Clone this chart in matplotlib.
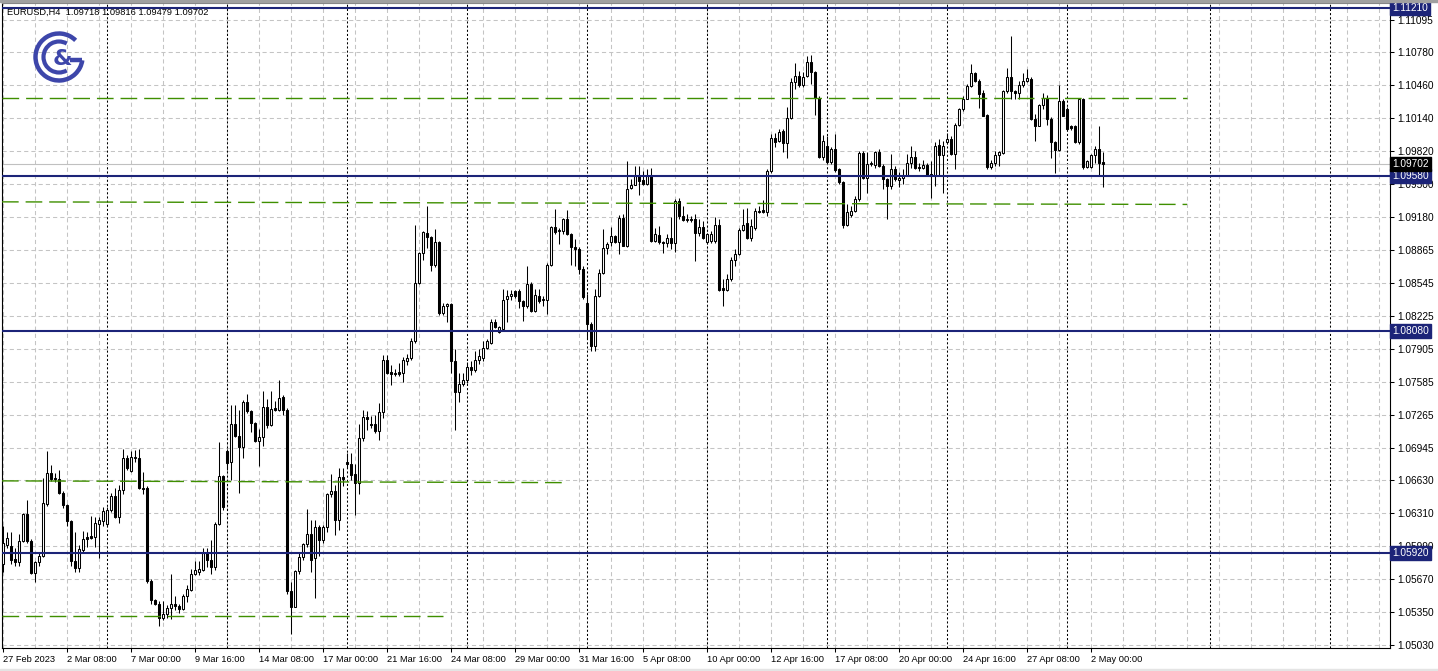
import numpy as np
import matplotlib
matplotlib.use("Agg")
import matplotlib.pyplot as plt
from matplotlib.patches import Arc, Rectangle
from matplotlib.transforms import blended_transform_factory

plt.rcParams['font.family'] = ['Liberation Sans', 'DejaVu Sans']
plt.rcParams['lines.scale_dashes'] = False

# EURUSD H4 bars, 27 Feb 16:00 .. 2 May 12:00 (one line = one day)
opens = [
    1.0582, 1.0600,
    1.0599, 1.0586, 1.0583, 1.0604, 1.0630, 1.0604,
    1.0573, 1.0583, 1.0589, 1.0640, 1.0670, 1.0665,
    1.0664, 1.0650, 1.0639, 1.0623, 1.0584, 1.0578,
    1.0595, 1.0608, 1.0609, 1.0608, 1.0620, 1.0623,
    1.0620, 1.0634, 1.0648, 1.0627, 1.0653, 1.0684,
    1.0672, 1.0684, 1.0684, 1.0655, 1.0655, 1.0565,
    1.0547, 1.0543, 1.0529, 1.0533, 1.0539, 1.0543,
    1.0541, 1.0538, 1.0550, 1.0556, 1.0572, 1.0574,
    1.0576, 1.0592, 1.0585, 1.0579, 1.0620, 1.0667,
    1.0691, 1.0681, 1.0717, 1.0706, 1.0695, 1.0739,
    1.0730, 1.0718, 1.0701, 1.0705, 1.0734, 1.0716,
    1.0733, 1.0731, 1.0744, 1.0731, 1.0555, 1.0540,
    1.0575, 1.0588, 1.0601, 1.0611, 1.0587, 1.0617,
    1.0605, 1.0617, 1.0649, 1.0652, 1.0624, 1.0666,
    1.0681, 1.0679, 1.0669, 1.0660, 1.0704, 1.0724,
    1.0717, 1.0717, 1.0711, 1.0729, 1.0780, 1.0768,
    1.0767, 1.0768, 1.0767, 1.0779, 1.0781, 1.0798,
    1.0854, 1.0883, 1.0903, 1.0899, 1.0872, 1.0894,
    1.0825, 1.0832, 1.0834, 1.0779, 1.0748, 1.0756,
    1.0760, 1.0773, 1.0770, 1.0780, 1.0781, 1.0791,
    1.0796, 1.0816, 1.0807, 1.0810, 1.0839, 1.0842,
    1.0846, 1.0846, 1.0837, 1.0832, 1.0853, 1.0827,
    1.0842, 1.0838, 1.0838, 1.0872, 1.0909, 1.0905,
    1.0905, 1.0916, 1.0902, 1.0889, 1.0887, 1.0868,
    1.0835, 1.0814, 1.0793, 1.0842, 1.0864, 1.0888,
    1.0894, 1.0900, 1.0894, 1.0917, 1.0890, 1.0946,
    1.0949, 1.0959, 1.0954, 1.0950, 1.0958, 1.0895,
    1.0901, 1.0894, 1.0893, 1.0898, 1.0893, 1.0934,
    1.0919, 1.0915, 1.0916, 1.0916, 1.0903, 1.0909,
    1.0894, 1.0895, 1.0895, 1.0911, 1.0849, 1.0847,
    1.0858, 1.0877, 1.0882, 1.0906, 1.0912, 1.0898,
    1.0908, 1.0923, 1.0925, 1.0923, 1.0963, 1.0995,
    1.0992, 1.1002, 1.0990, 1.1014, 1.1049, 1.1055,
    1.1046, 1.1055, 1.1069, 1.1059, 1.1034, 1.0977,
    1.0987, 1.0972, 1.0984, 1.0965, 1.0952, 1.0911,
    1.0920, 1.0924, 1.0936, 1.0980, 1.0956, 1.0970,
    1.0969, 1.0981, 1.0968, 1.0955, 1.0948, 1.0965,
    1.0954, 1.0956, 1.0959, 1.0971, 1.0977, 1.0967,
    1.0966, 1.0969, 1.0960, 1.0958, 1.0988, 1.0978,
    1.0991, 1.0994, 1.0979, 1.1008, 1.1023, 1.1033,
    1.1045, 1.1058, 1.1050, 1.1039, 1.1017, 1.0967,
    1.0971, 1.0978, 1.0980, 1.1041, 1.1054, 1.1041,
    1.1039, 1.1046, 1.1050, 1.1052, 1.1013, 1.1007,
    1.1027, 1.1034, 1.1013, 1.0991, 1.0983, 1.1031,
    1.1023, 1.1007, 1.1007, 1.0991, 1.1033, 1.0967,
    1.0967, 1.0978, 1.0984, 1.09718,
]
highs = [
    1.0618, 1.0613,
    1.0613, 1.0597, 1.0611, 1.0631, 1.0644, 1.0606,
    1.0584, 1.0593, 1.0665, 1.0691, 1.0678, 1.0670,
    1.0673, 1.0652, 1.0640, 1.0624, 1.0613, 1.0600,
    1.0614, 1.0613, 1.0628, 1.0627, 1.0627, 1.0637,
    1.0637, 1.0650, 1.0655, 1.0658, 1.0693, 1.0687,
    1.0691, 1.0692, 1.0693, 1.0671, 1.0657, 1.0567,
    1.0548, 1.0546, 1.0546, 1.0542, 1.0572, 1.0550,
    1.0543, 1.0552, 1.0561, 1.0577, 1.0584, 1.0584,
    1.0597, 1.0597, 1.0605, 1.0622, 1.0700, 1.0668,
    1.0693, 1.0736, 1.0736, 1.0731, 1.0741, 1.0747,
    1.0731, 1.0719, 1.0713, 1.0749, 1.0742, 1.0749,
    1.0740, 1.0760, 1.0746, 1.0733, 1.0564, 1.0576,
    1.0593, 1.0602, 1.0635, 1.0624, 1.0624, 1.0619,
    1.0619, 1.0650, 1.0669, 1.0658, 1.0675, 1.0675,
    1.0689, 1.0689, 1.0679, 1.0717, 1.0731, 1.0730,
    1.0725, 1.0726, 1.0738, 1.0784, 1.0784, 1.0775,
    1.0771, 1.0777, 1.0782, 1.0785, 1.0801, 1.0911,
    1.0884, 1.0905, 1.0929, 1.0900, 1.0907, 1.0895,
    1.0835, 1.0835, 1.0835, 1.0790, 1.0767, 1.0767,
    1.0778, 1.0779, 1.0788, 1.0790, 1.0798, 1.0800,
    1.0819, 1.0819, 1.0813, 1.0848, 1.0847, 1.0847,
    1.0847, 1.0848, 1.0838, 1.0871, 1.0855, 1.0848,
    1.0848, 1.0842, 1.0874, 1.0910, 1.0926, 1.0908,
    1.0917, 1.0925, 1.0903, 1.0897, 1.0889, 1.0871,
    1.0844, 1.0816, 1.0848, 1.0868, 1.0907, 1.0894,
    1.0909, 1.0901, 1.0920, 1.0921, 1.0973, 1.0955,
    1.0968, 1.0968, 1.0963, 1.0965, 1.0966, 1.0908,
    1.0910, 1.0895, 1.0902, 1.0918, 1.0936, 1.0937,
    1.0929, 1.0921, 1.0919, 1.0921, 1.0916, 1.0914,
    1.0903, 1.0905, 1.0918, 1.0916, 1.0858, 1.0863,
    1.0879, 1.0887, 1.0908, 1.0926, 1.0927, 1.0916,
    1.0927, 1.0929, 1.0935, 1.0965, 1.0999, 1.1000,
    1.1004, 1.1004, 1.1025, 1.1053, 1.1068, 1.1060,
    1.1059, 1.1075, 1.1076, 1.1060, 1.1036, 1.0998,
    1.0997, 1.0986, 1.0999, 1.0966, 1.0953, 1.0931,
    1.0929, 1.0939, 1.0982, 1.0982, 1.0981, 1.0973,
    1.0982, 1.0984, 1.0970, 1.0956, 1.0979, 1.0968,
    1.0962, 1.0965, 1.0979, 1.0987, 1.0982, 1.0971,
    1.0974, 1.0971, 1.0973, 1.0991, 1.0994, 1.0992,
    1.1000, 1.0997, 1.1010, 1.1024, 1.1036, 1.1047,
    1.1067, 1.1059, 1.1052, 1.1042, 1.1018, 1.0974,
    1.0982, 1.0982, 1.1042, 1.1063, 1.1094, 1.1042,
    1.1050, 1.1058, 1.1062, 1.1054, 1.1018, 1.1028,
    1.1039, 1.1037, 1.1015, 1.0992, 1.1046, 1.1033,
    1.1025, 1.1008, 1.1008, 1.1034, 1.1034, 1.0974,
    1.0979, 1.0987, 1.1007, 1.09816,
]
lows = [
    1.0574, 1.0597,
    1.0582, 1.0580, 1.0580, 1.0603, 1.0602, 1.0572,
    1.0564, 1.0580, 1.0588, 1.0638, 1.0662, 1.0661,
    1.0649, 1.0636, 1.0618, 1.0580, 1.0574, 1.0574,
    1.0593, 1.0598, 1.0606, 1.0598, 1.0587, 1.0618,
    1.0618, 1.0632, 1.0626, 1.0621, 1.0649, 1.0673,
    1.0671, 1.0681, 1.0654, 1.0649, 1.0563, 1.0543,
    1.0542, 1.0521, 1.0527, 1.0529, 1.0528, 1.0537,
    1.0534, 1.0537, 1.0545, 1.0555, 1.0571, 1.0571,
    1.0575, 1.0579, 1.0572, 1.0576, 1.0619, 1.0634,
    1.0673, 1.0663, 1.0705, 1.0650, 1.0684, 1.0728,
    1.0710, 1.0700, 1.0677, 1.0696, 1.0714, 1.0715,
    1.0730, 1.0730, 1.0726, 1.0552, 1.0514, 1.0540,
    1.0572, 1.0585, 1.0598, 1.0574, 1.0549, 1.0589,
    1.0602, 1.0613, 1.0647, 1.0610, 1.0615, 1.0657,
    1.0675, 1.0663, 1.0629, 1.0649, 1.0701, 1.0712,
    1.0714, 1.0709, 1.0702, 1.0723, 1.0766, 1.0755,
    1.0764, 1.0764, 1.0758, 1.0775, 1.0780, 1.0796,
    1.0853, 1.0877, 1.0888, 1.0866, 1.0870, 1.0823,
    1.0823, 1.0816, 1.0767, 1.0712, 1.0739, 1.0754,
    1.0757, 1.0765, 1.0768, 1.0776, 1.0779, 1.0790,
    1.0795, 1.0811, 1.0806, 1.0809, 1.0816, 1.0838,
    1.0840, 1.0830, 1.0817, 1.0830, 1.0826, 1.0826,
    1.0835, 1.0832, 1.0824, 1.0871, 1.0902, 1.0892,
    1.0902, 1.0901, 1.0872, 1.0871, 1.0863, 1.0839,
    1.0800, 1.0788, 1.0788, 1.0841, 1.0863, 1.0882,
    1.0890, 1.0893, 1.0882, 1.0890, 1.0889, 1.0945,
    1.0949, 1.0940, 1.0949, 1.0949, 1.0894, 1.0894,
    1.0892, 1.0883, 1.0889, 1.0887, 1.0884, 1.0916,
    1.0914, 1.0913, 1.0913, 1.0876, 1.0900, 1.0897,
    1.0892, 1.0893, 1.0893, 1.0846, 1.0832, 1.0846,
    1.0856, 1.0871, 1.0881, 1.0905, 1.0897, 1.0895,
    1.0906, 1.0922, 1.0922, 1.0919, 1.0961, 1.0986,
    1.0991, 1.0981, 1.0976, 1.1013, 1.1043, 1.1044,
    1.1044, 1.1054, 1.1047, 1.1017, 1.0976, 1.0974,
    1.0970, 1.0970, 1.0962, 1.0950, 1.0908, 1.0910,
    1.0918, 1.0923, 1.0934, 1.0955, 1.0942, 1.0968,
    1.0966, 1.0967, 1.0945, 1.0916, 1.0945, 1.0953,
    1.0947, 1.0950, 1.0958, 1.0966, 1.0965, 1.0963,
    1.0965, 1.0958, 1.0937, 1.0948, 1.0958, 1.0942,
    1.0989, 1.0978, 1.0965, 1.1007, 1.1021, 1.1033,
    1.1044, 1.1049, 1.1024, 1.1016, 1.0965, 1.0965,
    1.0968, 1.0968, 1.0979, 1.1039, 1.1033, 1.1033,
    1.1033, 1.1044, 1.1049, 1.1012, 1.0992, 1.1007,
    1.1023, 1.1008, 1.0976, 1.0961, 1.0982, 1.1016,
    1.1003, 1.1003, 1.0990, 1.0989, 1.0965, 1.0966,
    1.0966, 1.0971, 1.0958, 1.09479,
]
closes = [
    1.0602, 1.0607,
    1.0585, 1.0583, 1.0604, 1.0630, 1.0604, 1.0573,
    1.0583, 1.0589, 1.0641, 1.0670, 1.0664, 1.0664,
    1.0650, 1.0639, 1.0623, 1.0584, 1.0578, 1.0596,
    1.0606, 1.0606, 1.0607, 1.0621, 1.0624, 1.0633,
    1.0634, 1.0648, 1.0627, 1.0653, 1.0684, 1.0675,
    1.0685, 1.0685, 1.0655, 1.0654, 1.0565, 1.0547,
    1.0543, 1.0529, 1.0533, 1.0539, 1.0543, 1.0541,
    1.0538, 1.0550, 1.0557, 1.0572, 1.0576, 1.0577,
    1.0592, 1.0585, 1.0579, 1.0620, 1.0667, 1.0637,
    1.0680, 1.0717, 1.0706, 1.0695, 1.0739, 1.0730,
    1.0718, 1.0701, 1.0705, 1.0734, 1.0716, 1.0732,
    1.0731, 1.0743, 1.0731, 1.0555, 1.0540, 1.0575,
    1.0588, 1.0601, 1.0611, 1.0585, 1.0617, 1.0605,
    1.0617, 1.0649, 1.0652, 1.0624, 1.0666, 1.0664,
    1.0679, 1.0668, 1.0660, 1.0704, 1.0724, 1.0722,
    1.0716, 1.0711, 1.0729, 1.0780, 1.0767, 1.0766,
    1.0766, 1.0766, 1.0780, 1.0781, 1.0798, 1.0854,
    1.0883, 1.0904, 1.0899, 1.0872, 1.0894, 1.0825,
    1.0832, 1.0834, 1.0779, 1.0748, 1.0756, 1.0760,
    1.0773, 1.0770, 1.0780, 1.0783, 1.0791, 1.0798,
    1.0816, 1.0812, 1.0812, 1.0838, 1.0842, 1.0844,
    1.0842, 1.0837, 1.0832, 1.0853, 1.0827, 1.0843,
    1.0837, 1.0839, 1.0872, 1.0909, 1.0904, 1.0906,
    1.0916, 1.0902, 1.0889, 1.0887, 1.0868, 1.0841,
    1.0814, 1.0793, 1.0842, 1.0864, 1.0888, 1.0892,
    1.0900, 1.0894, 1.0917, 1.0890, 1.0945, 1.0949,
    1.0959, 1.0953, 1.0950, 1.0958, 1.0895, 1.0902,
    1.0894, 1.0893, 1.0898, 1.0893, 1.0934, 1.0919,
    1.0915, 1.0916, 1.0915, 1.0903, 1.0909, 1.0898,
    1.0902, 1.0902, 1.0911, 1.0847, 1.0847, 1.0858,
    1.0877, 1.0882, 1.0906, 1.0911, 1.0898, 1.0910,
    1.0924, 1.0924, 1.0923, 1.0963, 1.0995, 1.0991,
    1.1001, 1.0990, 1.1014, 1.1049, 1.1055, 1.1046,
    1.1054, 1.1069, 1.1059, 1.1034, 1.0977, 1.0992,
    1.0972, 1.0984, 1.0964, 1.0952, 1.0911, 1.0923,
    1.0924, 1.0936, 1.0980, 1.0956, 1.0970, 1.0971,
    1.0981, 1.0968, 1.0955, 1.0948, 1.0965, 1.0955,
    1.0956, 1.0959, 1.0971, 1.0977, 1.0966, 1.0966,
    1.0969, 1.0959, 1.0958, 1.0987, 1.0978, 1.0987,
    1.0994, 1.0979, 1.1008, 1.1023, 1.1033, 1.1045,
    1.1058, 1.1050, 1.1038, 1.1016, 1.0967, 1.0971,
    1.0978, 1.0981, 1.1041, 1.1054, 1.1041, 1.1039,
    1.1046, 1.1050, 1.1053, 1.1013, 1.1007, 1.1027,
    1.1034, 1.1013, 1.0991, 1.0983, 1.1031, 1.1016,
    1.1004, 1.1005, 1.0991, 1.1033, 1.0967, 1.0973,
    1.0978, 1.0984, 1.0971, 1.09702,
]

first_bar = 4  # bars counted from 27 Feb 00:00, 6 per trading day

time_labels = ["27 Feb 2023", "2 Mar 08:00", "7 Mar 00:00", "9 Mar 16:00",
               "14 Mar 08:00", "17 Mar 00:00", "21 Mar 16:00", "24 Mar 08:00",
               "29 Mar 00:00", "31 Mar 16:00", "5 Apr 08:00", "10 Apr 00:00",
               "12 Apr 16:00", "17 Apr 08:00", "20 Apr 00:00", "24 Apr 16:00",
               "27 Apr 08:00", "2 May 00:00"]

price_ticks = [1.11095, 1.10780, 1.10460, 1.10140, 1.09820, 1.09500, 1.09180,
               1.08865, 1.08545, 1.08225, 1.07905, 1.07585, 1.07265, 1.06945,
               1.06630, 1.06310, 1.05990, 1.05670, 1.05350, 1.05030]

levels = [1.11210, 1.09580, 1.08080, 1.05920]
bid_price = 1.09702
# green dashed trend lines: price at left, price at right end, last bar
green_from = [1.10338, 1.09330, 1.06622, 1.05311]
green_to = [1.10338, 1.09305, 1.06605, 1.05311]
green_last_bar = [300, 300, 144, 114]

title = "EURUSD,H4  1.09718 1.09816 1.09479 1.09702"

navy = '#1c2478'
green = '#3f8f00'
logo_blue = '#3d46aa'

W, H = 1438, 671
fig = plt.figure(figsize=(W / 100, H / 100), dpi=100)
fig.patch.set_facecolor('white')
ax = fig.add_axes([2 / W, 1 - 648 / H, 1388 / W, 645 / H])
ax.set_xlim(3.75, 350.75)
ax.set_ylim(1.05000, 1.11260)

# grid
for p in price_ticks:
    ax.axhline(p, color='#c4c4c4', lw=0.75, ls=(0, (3, 2.2)), zorder=0)
for b in range(4, 351, 8):
    ax.axvline(b, color='#c4c4c4', lw=0.75, ls=(0, (3, 2.2)), zorder=0)
for b in list(range(30, 300, 30)) + [305.75, 335.75]:
    ax.axvline(b, color='black', lw=0.75, ls=(0, (1.5, 1.5)), zorder=1)

ax.axhline(bid_price, color='#c0c0c0', lw=0.8, zorder=1)

# candles
o = np.array(opens)
c = np.array(closes)
x = np.arange(first_bar, first_bar + len(c))
up = c >= o
ax.vlines(x, lows, highs, color='black', lw=0.75, zorder=3)
ax.bar(x, np.abs(c - o), bottom=np.minimum(o, c), width=0.6,
       color=np.where(up, 'white', 'black'), edgecolor='black',
       linewidth=0.75, zorder=4)

# objects
for a, b, last in zip(green_from, green_to, green_last_bar):
    ax.plot([3.75, last], [a, b], color=green, lw=1.0, ls=(0, (12, 5)), zorder=5)
for lv in levels:
    ax.axhline(lv, color=navy, lw=1.5, zorder=6)

# axes look
for s in ['left', 'bottom', 'right']:
    ax.spines[s].set_color('black')
    ax.spines[s].set_linewidth(0.8)
ax.spines['top'].set_color('#808080')
ax.yaxis.tick_right()
ax.set_yticks(price_ticks)
ax.set_yticklabels([f"{p:.5f}" for p in price_ticks])
ax.tick_params(axis='y', length=3, width=0.75, pad=2, labelsize=7.3)

tick_pos = [first_bar + 16 * n for n in range(len(time_labels))]
ax.set_xticks(tick_pos)
ax.set_xticklabels(time_labels)
ax.tick_params(axis='x', length=3, width=0.75, pad=2, labelsize=6.7)
for lab in ax.get_xticklabels():
    lab.set_ha('left')

trans = blended_transform_factory(ax.transAxes, ax.transData)
for lv in levels:
    ax.text(1.0016, lv, f"{lv:.5f}", transform=trans, ha='left', va='center',
            fontsize=7.3, color='white', clip_on=False, zorder=10,
            bbox=dict(boxstyle='square,pad=0.2', fc=navy, ec=navy))
ax.text(1.0016, bid_price, f"{bid_price:.5f}", transform=trans, ha='left',
        va='center', fontsize=7.3, color='white', clip_on=False, zorder=10,
        bbox=dict(boxstyle='square,pad=0.2', fc='black', ec='black'))

fig.text(7 / W, 1 - 12 / H, title, fontsize=6.7, va='center', ha='left')

# frame bands
fig.patches.append(Rectangle((0, 1 - 2 / H), 1, 2 / H, transform=fig.transFigure,
                             color='#a0a0a0', zorder=0))
fig.patches.append(Rectangle((0, 0), 1, 2 / H, transform=fig.transFigure,
                             color='#e4e4e4', zorder=0))

# logo
la = fig.add_axes([30 / W, 1 - 86 / H, 58 / W, 58 / H])
la.set_xlim(-29, 29)
la.set_ylim(-29, 29)
la.set_aspect('equal')
la.axis('off')
la.add_patch(Arc((0, 0), 47, 47, theta1=45, theta2=352, lw=3.2, color=logo_blue))
la.plot([23, 11], [-3, -3], color=logo_blue, lw=3.2, solid_capstyle='butt')
la.add_patch(Arc((0, 0), 31, 31, theta1=60, theta2=300, lw=3.0, color=logo_blue))
la.text(3, -2, "&", fontsize=16, fontweight='bold', color=logo_blue,
        ha='center', va='center', family='DejaVu Sans')

fig.savefig("out.png", dpi=100)
